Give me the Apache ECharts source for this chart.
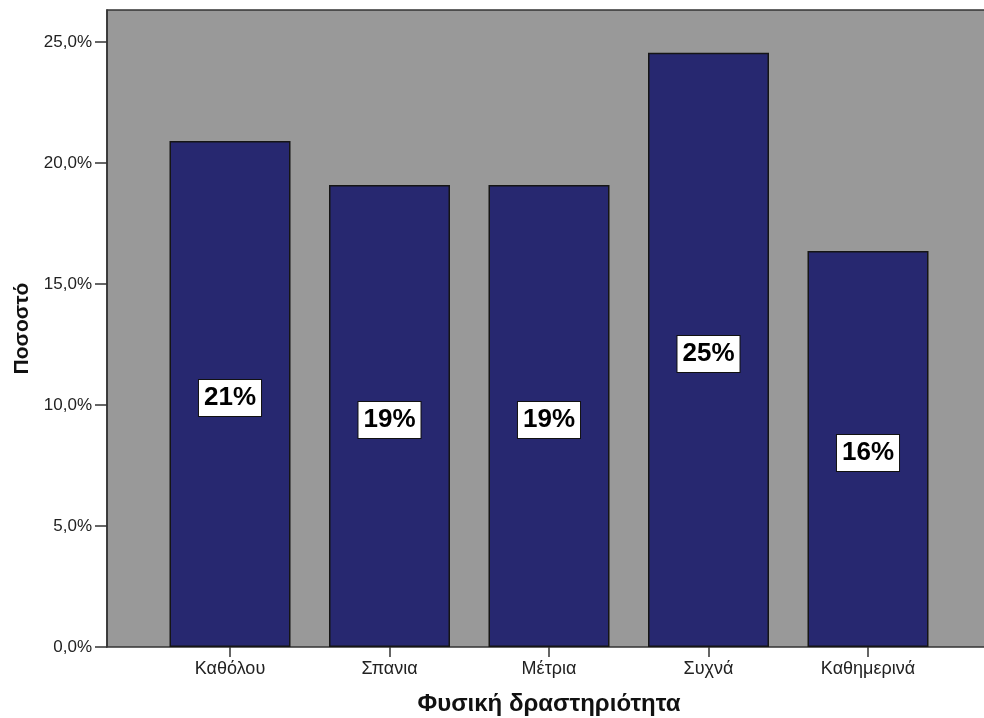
<!DOCTYPE html>
<html>
<head>
<meta charset="utf-8">
<script src="https://cdn.jsdelivr.net/npm/echarts@6/dist/echarts.min.js"></script>
<style>
  html, body { margin: 0; padding: 0; background: #ffffff; }
  #chart { width: 984px; height: 718px; }
</style>
</head>
<body>
<div id="chart"></div>
<script>
// Physical activity frequency (% of respondents)
const categories = ['Καθόλου', 'Σπανια', 'Μέτρια', 'Συχνά', 'Καθημερινά'];
const percentValues = [20.91, 19.09, 19.09, 24.55, 16.36];
const yTickValues = [0, 5, 10, 15, 20, 25];

const yMax = 26.32;
const fontFamily = '"Liberation Sans", Arial, sans-serif';
const fmtPct = v => v.toFixed(1).replace('.', ',') + '%';

const chart = echarts.init(document.getElementById('chart'));
chart.setOption({
  animation: false,
  backgroundColor: '#ffffff',
  grid: [
    // plot frame with grey background
    { left: 107, top: 10, width: 884, height: 637, show: true, outerBoundsMode: 'none',
      backgroundColor: '#999999', borderColor: '#333333', borderWidth: 1.5 },
    // category band area for the bars
    { left: 150.25, top: 10, width: 797.5, height: 637, outerBoundsMode: 'none' }
  ],
  xAxis: [
    { gridIndex: 0, type: 'value', min: 0, max: 1, show: false },
    {
      gridIndex: 1, type: 'category', data: categories,
      axisLine: { show: false },
      axisTick: { show: true, alignWithLabel: true, length: 10,
                  lineStyle: { color: '#333333', width: 1.5 } },
      axisLabel: { color: '#222222', fontSize: 18, fontFamily, margin: 13 },
      name: 'Φυσική δραστηριότητα', nameLocation: 'middle', nameGap: 45,
      nameTextStyle: { color: '#111111', fontSize: 24, fontWeight: 'bold', fontFamily }
    }
  ],
  yAxis: [
    {
      gridIndex: 0, type: 'value', min: 0, max: yMax,
      splitLine: { show: false },
      axisLine: { show: true, lineStyle: { color: '#333333', width: 1.5 } },
      axisTick: { show: true, length: 12, customValues: yTickValues,
                  lineStyle: { color: '#333333', width: 1.5 } },
      axisLabel: { customValues: yTickValues, formatter: fmtPct,
                   color: '#222222', fontSize: 17, fontFamily, margin: 15 },
      name: 'Ποσοστό', nameLocation: 'middle', nameGap: 73, nameRotate: 90,
      nameTextStyle: { color: '#111111', fontSize: 21, fontWeight: 'bold', fontFamily }
    },
    { gridIndex: 1, type: 'value', min: 0, max: yMax, show: false }
  ],
  series: [{
    type: 'bar',
    xAxisIndex: 1, yAxisIndex: 1,
    data: percentValues,
    barWidth: 121,
    itemStyle: { color: '#272870', borderColor: '#151515', borderWidth: 1.5 },
    label: {
      show: true, position: 'inside', offset: [0, 4],
      formatter: p => Math.round(p.value) + '%',
      color: '#000000', fontSize: 26, fontWeight: 'bold', fontFamily,
      backgroundColor: '#ffffff', borderColor: '#111111', borderWidth: 1,
      padding: [6, 5, 4, 5]
    }
  }]
});
</script>
</body>
</html>
